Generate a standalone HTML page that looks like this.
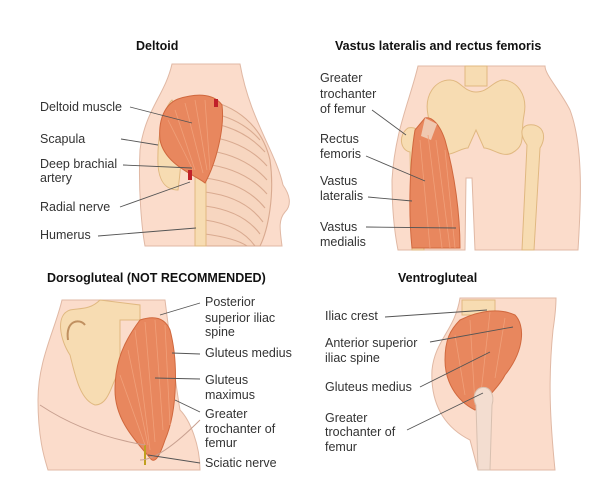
<!DOCTYPE html>
<html><head><style>
html,body{margin:0;padding:0;background:#fff;}
svg{display:block;}
text{font-family:"Liberation Sans",sans-serif;font-size:12.5px;fill:#333;}
.t{font-weight:bold;font-size:12.5px;fill:#111;}
.l{stroke:#555;stroke-width:0.9;fill:none;}
.bone{fill:#f7dcb2;stroke:#e0b880;stroke-width:1;}
.mus{fill:#e8875e;stroke:#d0683e;stroke-width:1;}
.skin{fill:#fbdccb;stroke:#e0b8a4;stroke-width:1;}
.fib{stroke:#f0a07a;stroke-width:0.8;fill:none;}
</style></head><body>
<svg width="600" height="500" viewBox="0 0 600 500">
<rect width="600" height="500" fill="#fff"/>
<!-- Panel 1 -->
<text class="t" x="136" y="50">Deltoid</text>
<path class="skin" d="M172,64 C165,95 145,110 140,150 C138,190 142,230 145,246 L282,246 C280,230 278,220 285,212 C292,205 290,195 283,185 C275,150 250,120 240,64 Z"/>
<g stroke="#d9aa90" stroke-width="1.1" fill="#f7d6c0">
<path d="M205,100 C235,105 262,125 270,160 C275,195 268,230 260,246 L205,246 Z"/>
</g>
<g stroke="#d9aa90" stroke-width="1.1" fill="none">
<path d="M205,112 q35,5 55,28"/><path d="M205,122 q38,5 60,30"/><path d="M205,136 q40,5 62,30"/><path d="M205,150 q40,5 62,30"/><path d="M205,164 q40,5 62,30"/><path d="M205,178 q40,5 60,30"/><path d="M205,192 q40,5 58,30"/><path d="M205,206 q38,5 55,28"/><path d="M205,220 q35,5 50,26"/><path d="M205,234 q30,4 42,12"/>
</g>
<path class="bone" d="M172,100 C162,110 157,140 158,165 C159,180 165,190 178,190 C182,160 185,120 172,100 Z"/>
<rect class="bone" x="195" y="160" width="11" height="86"/>
<path class="mus" d="M178,99 C200,92 215,95 222,105 C225,130 215,165 205,183 C195,175 165,165 160,140 C158,120 165,104 178,99 Z"/>
<path class="fib" d="M175,110 l20,60 M185,103 l18,70 M195,100 l12,70 M205,100 l5,70 M168,120 l25,50"/>
<rect x="214" y="99" width="4" height="8" fill="#c0202a"/>
<rect x="188" y="170" width="4" height="10" fill="#c0202a"/>
<text x="40" y="111">Deltoid muscle</text>
<text x="40" y="143">Scapula</text>
<text x="40" y="168">Deep brachial</text>
<text x="40" y="182">artery</text>
<text x="40" y="211">Radial nerve</text>
<text x="40" y="239">Humerus</text>
<path class="l" d="M130,107 L192,123 M121,139 L158,145 M123,165 L192,168 M120,207 L190,182 M98,236 L196,228"/>
<!-- Panel 2 -->
<text class="t" x="335" y="50">Vastus lateralis and rectus femoris</text>
<path class="skin" d="M418,66 C410,100 395,130 392,180 C392,215 396,240 398,250 L465,250 L466,178 L472,178 L475,250 L578,250 C580,215 585,150 570,110 C560,90 545,75 545,66 Z"/>
<rect class="bone" x="465" y="66" width="22" height="20"/>
<path class="bone" d="M450,80 C435,80 424,95 428,115 C432,135 425,145 440,153 C450,158 460,148 468,148 L476,130 L484,148 C492,148 502,158 512,153 C527,145 520,135 524,115 C528,95 517,80 502,80 C492,82 488,92 476,92 C464,92 460,80 450,80 Z"/>
<path class="bone" d="M408,128 C398,135 400,150 410,152 L412,250 L424,250 L420,150 C428,140 420,125 408,128 Z"/>
<path class="bone" d="M528,125 C542,123 548,135 540,148 L534,250 L522,250 L527,145 C520,135 520,127 528,125 Z"/>
<path class="mus" d="M425,118 C432,116 440,125 445,140 C455,175 460,215 460,248 L412,248 C408,210 410,160 415,130 Z"/>
<path d="M425,118 l12,6 l-6,16 l-10,-4 Z" fill="#f0c8b0"/>
<path class="fib" d="M420,140 l10,108 M428,135 l14,113 M436,140 l14,108 M445,150 l10,98"/>
<text x="320" y="82">Greater</text>
<text x="320" y="98">trochanter</text>
<text x="320" y="113">of femur</text>
<text x="320" y="143">Rectus</text>
<text x="320" y="158">femoris</text>
<text x="320" y="185">Vastus</text>
<text x="320" y="200">lateralis</text>
<text x="320" y="231">Vastus</text>
<text x="320" y="246">medialis</text>
<path class="l" d="M372,110 L406,135 M366,156 L425,181 M368,197 L412,201 M366,227 L456,228"/>
<!-- Panel 3 -->
<text class="t" x="47" y="282">Dorsogluteal (NOT RECOMMENDED)</text>
<path class="skin" d="M62,300 C55,330 38,360 38,400 C38,440 45,460 48,470 L200,470 C200,445 190,420 180,410 C175,380 170,340 165,300 Z"/>
<path class="bone" d="M70,310 C55,315 60,340 70,355 C75,375 80,400 95,405 C110,405 112,380 120,370 L120,320 L140,320 L140,305 L100,300 C90,310 80,308 70,310 Z"/>
<path d="M68,340 C65,320 80,318 85,325" stroke="#c09060" stroke-width="2" fill="none"/>
<path class="mus" d="M140,320 C155,315 165,318 170,330 C178,360 178,410 165,440 C160,455 155,465 150,458 C135,440 115,420 115,390 C115,360 125,340 140,320 Z"/>
<path class="fib" d="M135,330 l15,120 M145,322 l10,120 M155,320 l8,110 M128,350 l20,95 M120,375 l25,70 M165,325 l5,100"/>
<rect x="144" y="445" width="2" height="20" fill="#c0a020"/>
<path d="M40,405 q45,30 105,40 M200,420 q-40,40 -60,40" stroke="#c8a090" fill="none"/>
<text x="205" y="306">Posterior</text>
<text x="205" y="322">superior iliac</text>
<text x="205" y="336">spine</text>
<text x="205" y="357">Gluteus medius</text>
<text x="205" y="384">Gluteus</text>
<text x="205" y="399">maximus</text>
<text x="205" y="418">Greater</text>
<text x="205" y="433">trochanter of</text>
<text x="205" y="447">femur</text>
<text x="205" y="467">Sciatic nerve</text>
<path class="l" d="M200,303 L160,315 M200,354 L172,353 M200,379 L155,378 M200,412 L175,400 M200,463 L148,455"/>
<!-- Panel 4 -->
<text class="t" x="398" y="282">Ventrogluteal</text>
<path class="skin" d="M460,298 C455,330 435,340 432,370 C430,410 450,430 470,440 L478,470 L555,470 C550,420 548,380 553,330 C556,310 556,300 556,298 Z"/>
<path class="bone" d="M462,300 L495,300 L495,315 L462,315 Z"/>
<path class="mus" d="M460,320 C480,310 500,308 515,315 C525,325 525,350 505,375 C500,385 490,395 475,410 C455,400 445,380 445,360 C445,340 450,330 460,320 Z"/>
<path class="fib" d="M470,320 l5,85 M490,312 l-10,90 M505,318 l-10,60 M455,335 l10,60"/>
<path d="M480,388 C490,385 495,395 492,405 L490,470 L478,470 L476,405 C472,398 475,390 480,388 Z" fill="#f3ddd0" stroke="#d8c0b0"/>
<text x="325" y="320">Iliac crest</text>
<text x="325" y="347">Anterior superior</text>
<text x="325" y="362">iliac spine</text>
<text x="325" y="391">Gluteus medius</text>
<text x="325" y="422">Greater</text>
<text x="325" y="436">trochanter of</text>
<text x="325" y="451">femur</text>
<path class="l" d="M385,317 L487,310 M430,342 L513,327 M420,387 L490,352 M407,430 L483,393"/>
</svg>
</body></html>
